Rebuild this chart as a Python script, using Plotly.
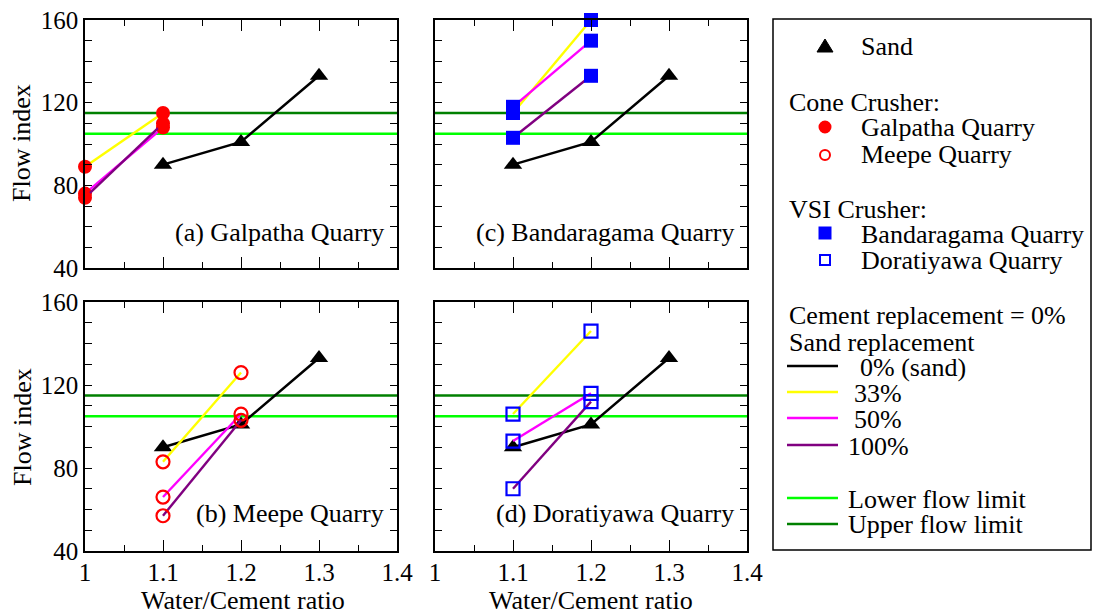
import plotly.graph_objects as go

# page body has an 8px default margin: size the figure to fit the window
OFF = 8
W, H = 1100 - OFF, 615 - OFF
FONT = "Liberation Serif, Times New Roman, serif"

# ---------------- data ----------------
wc_sand = [1.1, 1.2, 1.3]
flow_sand = [90, 101, 133]
x_limits = [1.0, 1.4]
lower_limit = [105, 105]
upper_limit = [115, 115]

wc_galpatha = [1.0, 1.1]
galpatha_33 = [89, 115]
galpatha_50 = [76, 108]
galpatha_100 = [74, 110]

wc_meepe = [1.1, 1.2]
meepe_33 = [83, 126]
meepe_50 = [66, 106]
meepe_100 = [57, 103]

wc_bandaragama = [1.1, 1.2]
bandaragama_33 = [115, 160]
bandaragama_50 = [118, 150]
bandaragama_100 = [103, 133]

wc_doratiyawa = [1.1, 1.2]
doratiyawa_33 = [106, 146]
doratiyawa_50 = [93, 116]
doratiyawa_100 = [70, 112]

x_ticks = [1.0, 1.1, 1.2, 1.3, 1.4]
x_ticklabels = ["1", "1.1", "1.2", "1.3", "1.4"]
y_ticks = [40, 80, 120, 160]
y_ticklabels = ["40", "80", "120", "160"]

panel_labels = ["(a) Galpatha Quarry", "(c) Bandaragama Quarry",
                "(b) Meepe Quarry", "(d) Doratiyawa Quarry"]

rep_colors = {"0": "#000000", "33": "#FFFF00", "50": "#FF00FF", "100": "#800080"}
LOWER_C = "#00FF00"
UPPER_C = "#008000"


def px(x):
    return (x - OFF) / W


def py(y):
    return 1 - (y - OFF) / H


# ---------------- panel geometry (window pixels) ----------------
panels = [
    ("x", "y", 85, 397, 20, 268),
    ("x2", "y2", 435, 747, 20, 268),
    ("x3", "y3", 85, 397, 302, 551),
    ("x4", "y4", 435, 747, 302, 551),
]

series = [
    (wc_galpatha, [galpatha_33, galpatha_50, galpatha_100],
     dict(symbol="circle", size=14, color="#FF0000", line=dict(width=0))),
    (wc_bandaragama, [bandaragama_33, bandaragama_50, bandaragama_100],
     dict(symbol="square", size=14, color="#0000FF", line=dict(width=0))),
    (wc_meepe, [meepe_33, meepe_50, meepe_100],
     dict(symbol="circle-open", size=13, color="#FF0000", line=dict(width=2.2))),
    (wc_doratiyawa, [doratiyawa_33, doratiyawa_50, doratiyawa_100],
     dict(symbol="square-open", size=13, color="#0000FF", line=dict(width=2.2))),
]

fig = go.Figure()

for (xa, ya, l, r, t, b), (wc, vals, mk) in zip(panels, series):
    fig.add_trace(go.Scatter(x=x_limits, y=lower_limit, mode="lines", xaxis=xa, yaxis=ya,
                             line=dict(color=LOWER_C, width=2.5), showlegend=False, hoverinfo="skip"))
    fig.add_trace(go.Scatter(x=x_limits, y=upper_limit, mode="lines", xaxis=xa, yaxis=ya,
                             line=dict(color=UPPER_C, width=2.5), showlegend=False, hoverinfo="skip"))
    fig.add_trace(go.Scatter(x=wc_sand, y=flow_sand, mode="lines+markers", xaxis=xa, yaxis=ya,
                             line=dict(color="#000000", width=2.5),
                             marker=dict(symbol="triangle-up", size=16, color="#000000"),
                             cliponaxis=False, showlegend=False))
    for key, v in zip(["33", "50", "100"], vals):
        fig.add_trace(go.Scatter(x=wc, y=v, mode="lines+markers", xaxis=xa, yaxis=ya,
                                 line=dict(color=rep_colors[key], width=2.4),
                                 marker=mk, cliponaxis=False, showlegend=False))

layout = dict(width=W, height=H, margin=dict(l=0, r=0, t=0, b=0, autoexpand=False),
              paper_bgcolor="white", plot_bgcolor="white", template="none",
              font=dict(family=FONT, color="black"), showlegend=False)

for i, (xa, ya, l, r, t, b) in enumerate(panels):
    bottom_row = i >= 2
    left_col = i % 2 == 0
    xname = "xaxis" + ("" if xa == "x" else xa[1:])
    yname = "yaxis" + ("" if ya == "y" else ya[1:])
    layout[xname] = dict(domain=[px(l), px(r)], anchor=ya, range=[1.0, 1.4], automargin=False,
                         showline=True, linecolor="black", linewidth=1.5, mirror="allticks",
                         ticks="inside", ticklen=11, tickwidth=1.3, tickcolor="black",
                         tickvals=x_ticks, ticktext=x_ticklabels, ticklabeloverflow="allow",
                         minor=dict(ticks="inside", dtick=0.05, tick0=1.0, ticklen=6,
                                    tickwidth=1.3, tickcolor="black"),
                         showticklabels=bottom_row, tickfont=dict(size=25, family=FONT),
                         showgrid=False, zeroline=False, fixedrange=True, ticklabelstandoff=-2)
    layout[yname] = dict(domain=[py(b), py(t)], anchor=xa, range=[40, 160], automargin=False,
                         showline=True, linecolor="black", linewidth=1.5, mirror="allticks",
                         ticks="inside", ticklen=7, tickwidth=1.3, tickcolor="black",
                         tickvals=y_ticks, ticktext=y_ticklabels, ticklabeloverflow="allow",
                         minor=dict(ticks="inside", dtick=10, tick0=40, ticklen=7,
                                    tickwidth=1.3, tickcolor="black"),
                         showticklabels=left_col, tickfont=dict(size=25, family=FONT),
                         showgrid=False, zeroline=False, fixedrange=True, ticklabelstandoff=0)

fig.update_layout(**layout)

ann = []
label_pos = [(386, 232), (736, 232), (386, 513), (736, 513)]
for txt, (x, y) in zip(panel_labels, label_pos):
    ann.append(dict(x=px(x), y=py(y), xref="paper", yref="paper", text=txt, showarrow=False,
                    xanchor="right", yanchor="middle", font=dict(size=26, family=FONT)))
for y in (143, 427):
    ann.append(dict(x=px(22), y=py(y), xref="paper", yref="paper", text="Flow index",
                    showarrow=False, textangle=-90, xanchor="center", yanchor="middle",
                    font=dict(size=26, family=FONT)))
for x in (243, 591):
    ann.append(dict(x=px(x), y=py(600), xref="paper", yref="paper", text="Water/Cement ratio",
                    showarrow=False, xanchor="center", yanchor="middle",
                    font=dict(size=26, family=FONT)))

legend_text = [
    ("Sand", 859, 46), ("Cone Crusher:", 787, 102), ("Galpatha Quarry", 859, 128),
    ("Meepe Quarry", 859, 155), ("VSI Crusher:", 787, 210), ("Bandaragama Quarry", 859, 234),
    ("Doratiyawa Quarry", 859, 260), ("Cement replacement = 0%", 787, 315),
    ("Sand replacement", 787, 342), ("0% (sand)", 858, 367), ("33%", 852, 393),
    ("50%", 852, 419), ("100%", 846, 446), ("Lower flow limit", 846, 499),
    ("Upper flow limit", 846, 524),
]
for txt, x, y in legend_text:
    ann.append(dict(x=px(x), y=py(y), xref="paper", yref="paper", text=txt, showarrow=False,
                    xanchor="left", yanchor="middle", font=dict(size=26, family=FONT)))

shapes = []
shapes.append(dict(type="rect", xref="paper", yref="paper", x0=px(773), x1=px(1091),
                   y0=py(550), y1=py(19), line=dict(color="black", width=1.5)))
cx = 825
shapes.append(dict(type="path", xref="paper", yref="paper",
                   path=f"M {px(cx-8)},{py(52)} L {px(cx+8)},{py(52)} L {px(cx)},{py(39)} Z",
                   fillcolor="black", line=dict(color="black", width=1)))
shapes.append(dict(type="circle", xref="paper", yref="paper", x0=px(cx-6.5), x1=px(cx+6.5),
                   y0=py(127+6.5), y1=py(127-6.5), fillcolor="#FF0000", line=dict(width=0)))
shapes.append(dict(type="circle", xref="paper", yref="paper", x0=px(cx-5), x1=px(cx+5),
                   y0=py(155+5), y1=py(155-5), fillcolor="white",
                   line=dict(color="#FF0000", width=2)))
shapes.append(dict(type="rect", xref="paper", yref="paper", x0=px(cx-6.5), x1=px(cx+6.5),
                   y0=py(233+6.5), y1=py(233-6.5), fillcolor="#0000FF", line=dict(width=0)))
shapes.append(dict(type="rect", xref="paper", yref="paper", x0=px(cx-5), x1=px(cx+5),
                   y0=py(260+5), y1=py(260-5), fillcolor="white",
                   line=dict(color="#0000FF", width=2)))
legend_lines = [(rep_colors["0"], 366), (rep_colors["33"], 392), (rep_colors["50"], 418),
                (rep_colors["100"], 445), (LOWER_C, 498), (UPPER_C, 524)]
for c, y in legend_lines:
    shapes.append(dict(type="line", xref="paper", yref="paper", x0=px(787), x1=px(838),
                       y0=py(y), y1=py(y), line=dict(color=c, width=2.5)))

fig.update_layout(annotations=ann, shapes=shapes)
fig.write_html("out.html")
